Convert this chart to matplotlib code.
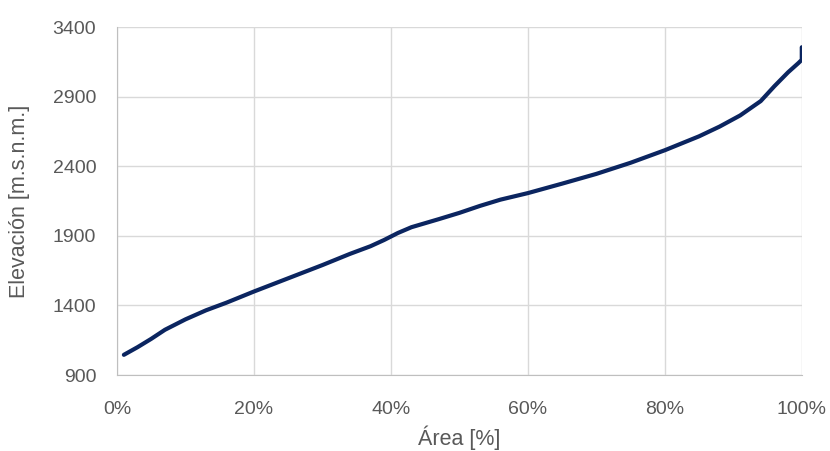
import matplotlib
matplotlib.use("Agg")
from matplotlib import pyplot as plt
from matplotlib.ticker import FuncFormatter

# hypsometric curve: cumulative area (%) vs elevation (m.s.n.m.)
area = [1, 3, 5, 7, 10, 13, 16, 20, 25, 30, 34, 37, 39, 41, 43, 47, 50, 53, 56, 60,
        65, 70, 75, 80, 85, 88, 91, 94, 96, 98, 99.5, 100, 100]
elev = [1045, 1100, 1160, 1225, 1300, 1365, 1420, 1500, 1595, 1690, 1770, 1825, 1870,
        1920, 1962, 2020, 2065, 2115, 2160, 2207, 2275, 2345, 2425, 2515, 2615, 2685,
        2765, 2868, 2975, 3075, 3141, 3165, 3255]

plt.rcParams['font.family'] = ['Liberation Sans', 'DejaVu Sans']
txt = '#595959'

fig = plt.figure(figsize=(8.3, 4.51), dpi=100)
ax = fig.add_axes([0.141, 0.1685, 0.825, 0.7715])

ax.plot(area, elev, color='#0B2560', lw=3, solid_capstyle='round', solid_joinstyle='round')

ax.set_xlim(0, 100)
ax.set_ylim(900, 3400)
ax.set_xticks(range(0, 101, 20))
ax.set_yticks(range(900, 3401, 500))
ax.xaxis.set_major_formatter(FuncFormatter(lambda v, p: '%d%%' % v))
ax.grid(True, color='#D9D9D9', lw=1)
ax.set_axisbelow(True)
for s in ['top', 'right']:
  ax.spines[s].set_visible(False)
for s in ['left', 'bottom']:
  ax.spines[s].set_color('#BFBFBF')
ax.tick_params(axis='x', length=0, labelsize=14, colors=txt, pad=19)
ax.tick_params(axis='y', length=0, labelsize=14, colors=txt, pad=15)
ax.set_xlabel('Área [%]', fontsize=15.5, color=txt, labelpad=5)
ax.set_ylabel('Elevación [m.s.n.m.]', fontsize=15.5, color=txt, labelpad=16)

plt.savefig("out.png")
